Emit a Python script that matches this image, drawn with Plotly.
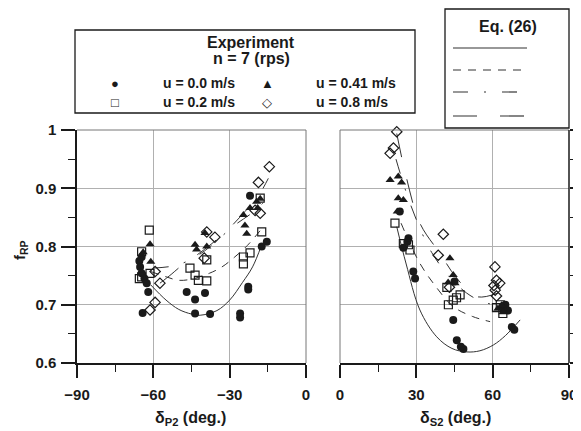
import plotly.graph_objects as go

# ---------------- data ----------------
# left panel: delta_P2 (deg.)
circ_p2_x = [-65.5, -64.6, -65.2, -64.6, -63.5, -62.6, -62.0, -64.2, -46.9, -43.6, -39.7, -43.6, -37.7, -22.7, -22.7, -25.9, -25.9, -17.4, -15.4, -22.0]
circ_p2_y = [0.775, 0.782, 0.765, 0.754, 0.745, 0.737, 0.722, 0.686, 0.722, 0.709, 0.720, 0.685, 0.684, 0.731, 0.726, 0.685, 0.678, 0.800, 0.808, 0.887]
sq_p2_x = [-61.6, -64.6, -64.6, -65.5, -61.3, -45.6, -43.6, -42.3, -39.0, -39.0, -22.0, -24.6, -24.6, -17.4, -18.0]
sq_p2_y = [0.828, 0.791, 0.748, 0.745, 0.754, 0.763, 0.751, 0.742, 0.741, 0.777, 0.789, 0.782, 0.770, 0.825, 0.883]
tri_p2_x = [-61.3, -61.0, -64.0, -43.6, -43.0, -39.0, -39.7, -24.6, -24.0, -23.3, -19.4, -19.0, -18.0, -22.0]
tri_p2_y = [0.804, 0.774, 0.790, 0.803, 0.795, 0.800, 0.823, 0.854, 0.836, 0.822, 0.877, 0.866, 0.882, 0.866]
dia_p2_x = [-61.3, -59.3, -57.4, -59.3, -35.8, -39.0, -40.0, -14.4, -18.7, -18.0, -20.0]
dia_p2_y = [0.691, 0.704, 0.737, 0.757, 0.816, 0.825, 0.780, 0.937, 0.910, 0.857, 0.862]

# right panel: delta_S2 (deg.)
circ_s2_x = [24.9, 26.9, 26.5, 28.8, 29.5, 44.5, 45.9, 48.5, 47.5, 67.5, 68.5, 65.0, 66.0, 64.0, 23.5, 45.0]
circ_s2_y = [0.798, 0.814, 0.808, 0.757, 0.745, 0.674, 0.639, 0.624, 0.628, 0.662, 0.657, 0.700, 0.690, 0.695, 0.860, 0.740]
sq_s2_x = [21.6, 24.9, 26.9, 27.5, 42.6, 47.2, 44.5, 45.8, 42.0, 64.0, 61.5, 63.0]
sq_s2_y = [0.840, 0.805, 0.803, 0.794, 0.700, 0.717, 0.708, 0.712, 0.730, 0.685, 0.695, 0.700]
tri_s2_x = [19.7, 22.9, 24.2, 22.9, 24.9, 43.2, 44.5, 42.5, 45.2, 62.0, 63.5, 64.0, 22.5]
tri_s2_y = [0.914, 0.920, 0.910, 0.883, 0.880, 0.780, 0.751, 0.738, 0.737, 0.693, 0.699, 0.687, 0.860]
dia_s2_x = [18.3, 21.6, 20.3, 22.3, 21.0, 19.7, 40.6, 38.6, 60.9, 61.5, 60.5, 61.0, 62.8, 61.5, 43.0]
dia_s2_y = [1.009, 1.014, 1.003, 0.997, 0.969, 0.960, 0.821, 0.785, 0.765, 0.742, 0.733, 0.725, 0.737, 0.715, 0.730]

# Eq. (26) curves
fit0_p2_x = [-61, -55, -50, -45, -41.6, -35, -30, -25, -21, -17.5]
fit0_p2_y = [0.734, 0.708, 0.692, 0.684, 0.682, 0.690, 0.708, 0.738, 0.765, 0.802]
fit2_p2_x = [-61, -55, -50, -45, -38, -33, -28, -23, -17.5]
fit2_p2_y = [0.757, 0.748, 0.742, 0.744, 0.754, 0.765, 0.782, 0.802, 0.830]
fit4_p2_x = [-60, -53, -47, -40, -33, -27, -22, -16.8]
fit4_p2_y = [0.763, 0.766, 0.774, 0.792, 0.818, 0.840, 0.855, 0.875]
fit8_p2_x = [-57.4, -53, -49.5, -43, -37, -30, -24, -19, -14.8]
fit8_p2_y = [0.737, 0.752, 0.765, 0.785, 0.805, 0.832, 0.860, 0.885, 0.917]

fit0_s2_x = [22.3, 26, 31.4, 38, 44, 49.8, 55, 60.3, 65, 70.8]
fit0_s2_y = [0.834, 0.770, 0.691, 0.645, 0.625, 0.619, 0.621, 0.631, 0.647, 0.674]
fit2_s2_x = [24, 27, 31.4, 37, 44.5, 52, 59]
fit2_s2_y = [0.840, 0.810, 0.771, 0.735, 0.697, 0.680, 0.671]
fit4_s2_x = [22, 25.5, 30.1, 36, 43, 49.8, 56, 61]
fit4_s2_y = [0.950, 0.900, 0.845, 0.790, 0.748, 0.720, 0.705, 0.700]
fit8_s2_x = [22.3, 26, 31.4, 39.3, 46, 53.7, 62]
fit8_s2_y = [0.994, 0.920, 0.840, 0.788, 0.745, 0.714, 0.720]

exp_labels = ["u = 0.0 m/s", "u = 0.2 m/s", "u = 0.41 m/s", "u = 0.8 m/s"]
exp_glyphs = ["●", "□", "▲", "◇"]
x_ticks_p2 = [-90, -60, -30, 0]
x_minor_p2 = [-75, -45, -15]
x_ticks_s2 = [0, 30, 60, 90]
x_minor_s2 = [15, 45, 75]
y_ticks = [0.6, 0.7, 0.8, 0.9, 1.0]
y_tick_text = ["0.6", "0.7", "0.8", "0.9", "1"]
y_minor = [0.65, 0.75, 0.85, 0.95]

# ---------------- styles ----------------
INK = "#1a1a1a"
FONT = "Liberation Sans, Arial, sans-serif"
DASHES = ["solid", "8px,7px", "15px,16px,2px,16px", "24px,23px"]
MARK = [
    dict(symbol="circle", size=8, color=INK),
    dict(symbol="square-open", size=8, color=INK, line=dict(width=1.2, color=INK)),
    dict(symbol="triangle-up", size=8, color=INK),
    dict(symbol="diamond-open", size=8, color=INK, line=dict(width=1.2, color=INK)),
]

fig = go.Figure()

series = [
    [(circ_p2_x, circ_p2_y), (sq_p2_x, sq_p2_y), (tri_p2_x, tri_p2_y), (dia_p2_x, dia_p2_y)],
    [(circ_s2_x, circ_s2_y), (sq_s2_x, sq_s2_y), (tri_s2_x, tri_s2_y), (dia_s2_x, dia_s2_y)],
]
fits = [
    [(fit0_p2_x, fit0_p2_y), (fit2_p2_x, fit2_p2_y), (fit4_p2_x, fit4_p2_y), (fit8_p2_x, fit8_p2_y)],
    [(fit0_s2_x, fit0_s2_y), (fit2_s2_x, fit2_s2_y), (fit4_s2_x, fit4_s2_y), (fit8_s2_x, fit8_s2_y)],
]
axes = [("x", "y"), ("x2", "y2")]

for p in range(2):
    xa, ya = axes[p]
    for i, (fx, fy) in enumerate(fits[p]):
        fig.add_trace(go.Scatter(x=fx, y=fy, mode="lines", xaxis=xa, yaxis=ya,
                                 line=dict(color="#333", width=1, dash=DASHES[i], shape="spline"),
                                 showlegend=False, hoverinfo="skip", cliponaxis=False))
    for i, (sx, sy) in enumerate(series[p]):
        fig.add_trace(go.Scatter(x=sx, y=sy, mode="markers", xaxis=xa, yaxis=ya,
                                 marker=MARK[i], showlegend=False, cliponaxis=False))

# page body has an 8px margin: figure drawn at (8, 8)
OFF = 8
W, H = 581 - OFF, 431 - OFF
def px(v): return (v - OFF) / W
def py(v): return 1 - (v - OFF) / H

tickfont = dict(family=FONT, size=15, color=INK, weight="bold")
common_x = dict(showgrid=True, gridcolor="#b0b0b0", gridwidth=1, zeroline=False,
                showline=True, linecolor=INK, linewidth=1.5, ticks="outside", ticklen=13,
                tickwidth=1.5, tickcolor=INK, tickfont=tickfont, tickmode="array",
                automargin=False, ticklabelstandoff=4)
common_y = dict(showgrid=True, gridcolor="#b0b0b0", gridwidth=1, zeroline=False,
                showline=True, linecolor=INK, linewidth=1.5, ticks="outside", ticklen=14,
                tickwidth=1.5, tickcolor=INK, tickfont=tickfont, range=[0.6, 1.0],
                tickmode="array", tickvals=y_ticks, ticktext=y_tick_text,
                minor=dict(ticks="outside", ticklen=7, tickcolor=INK, tickwidth=1.2,
                           tickmode="array", tickvals=y_minor, showgrid=False),
                domain=[py(363), py(130)], automargin=False)

fig.update_layout(
    width=W, height=H, autosize=False,
    margin=dict(l=0, r=0, t=0, b=0, pad=0),
    paper_bgcolor="white", plot_bgcolor="white",
    font=dict(family=FONT, color=INK),
    xaxis=dict(common_x, domain=[px(77), px(306)], range=[-90, 0], anchor="y",
               tickvals=x_ticks_p2,
               minor=dict(ticks="outside", ticklen=7, tickcolor=INK, tickwidth=1.2,
                          tickmode="array", tickvals=x_minor_p2, showgrid=False)),
    yaxis=dict(common_y, anchor="x", side="left", ticklabelstandoff=2),
    xaxis2=dict(common_x, domain=[px(340), px(569)], range=[0, 90], anchor="y2",
                tickvals=x_ticks_s2,
                minor=dict(ticks="outside", ticklen=7, tickcolor=INK, tickwidth=1.2,
                           tickmode="array", tickvals=x_minor_s2, showgrid=False)),
    yaxis2=dict(common_y, anchor="x2", side="right", showticklabels=False, showline=False),
)

shapes = []
shapes.append(dict(type="line", xref="x domain", yref="y domain", x0=0, x1=1, y0=1, y1=1,
                   line=dict(color="#777", width=1)))
shapes.append(dict(type="line", xref="x domain", yref="y domain", x0=1, x1=1, y0=0, y1=1,
                   line=dict(color="#777", width=1)))
shapes.append(dict(type="line", xref="x2 domain", yref="y2 domain", x0=0, x1=1, y0=1, y1=1,
                   line=dict(color="#777", width=1)))
shapes.append(dict(type="line", xref="x2 domain", yref="y2 domain", x0=0, x1=0, y0=0, y1=1,
                   line=dict(color="#777", width=1)))
shapes.append(dict(type="line", xref="x2 domain", yref="y2 domain", x0=1, x1=1, y0=0, y1=1,
                   line=dict(color=INK, width=1.5)))
shapes.append(dict(type="rect", xref="paper", yref="paper", x0=px(75), x1=px(415), y0=py(113), y1=py(30),
                   line=dict(color=INK, width=1.3), fillcolor="rgba(0,0,0,0)", layer="above"))
shapes.append(dict(type="rect", xref="paper", yref="paper", x0=px(445), x1=px(569), y0=py(128), y1=py(9),
                   line=dict(color=INK, width=1.3), fillcolor="white", layer="below"))
leg_line_y = [48, 70, 92, 116]
for i in range(4):
    shapes.append(dict(type="line", xref="paper", yref="paper", x0=px(453), x1=px(527),
                       y0=py(leg_line_y[i]), y1=py(leg_line_y[i]),
                       line=dict(color="#333", width=1.2, dash=DASHES[i]), layer="above"))
fig.update_layout(shapes=shapes)

ann = []
def txt(x, y, s, size=13, xanchor="center", angle=0, bold=True):
    ann.append(dict(x=px(x), y=py(y), xref="paper", yref="paper", text=s, showarrow=False,
                    xanchor=xanchor, yanchor="middle", textangle=angle,
                    font=dict(family=FONT, size=size, color=INK,
                              weight="bold" if bold else "normal")))
txt(251, 42, "Experiment", 16)
txt(251, 59, "n = 7 (rps)", 16)
leg_gx = [115, 115, 267, 267]
leg_gy = [83, 102, 83, 102]
leg_tx = [161, 161, 314, 314]
for i in range(4):
    txt(leg_gx[i], leg_gy[i], exp_glyphs[i], 13, bold=False)
    txt(leg_tx[i], leg_gy[i], exp_labels[i], 14, "left")
txt(508, 27, "Eq. (26)", 16)
txt(190, 418, "δ<sub>P2</sub> (deg.)", 16)
txt(455, 418, "δ<sub>S2</sub> (deg.)", 16)
txt(20, 250, "f<sub>RP</sub>", 15, "center", -90)
fig.update_layout(annotations=ann)

fig.write_html("out.html")
